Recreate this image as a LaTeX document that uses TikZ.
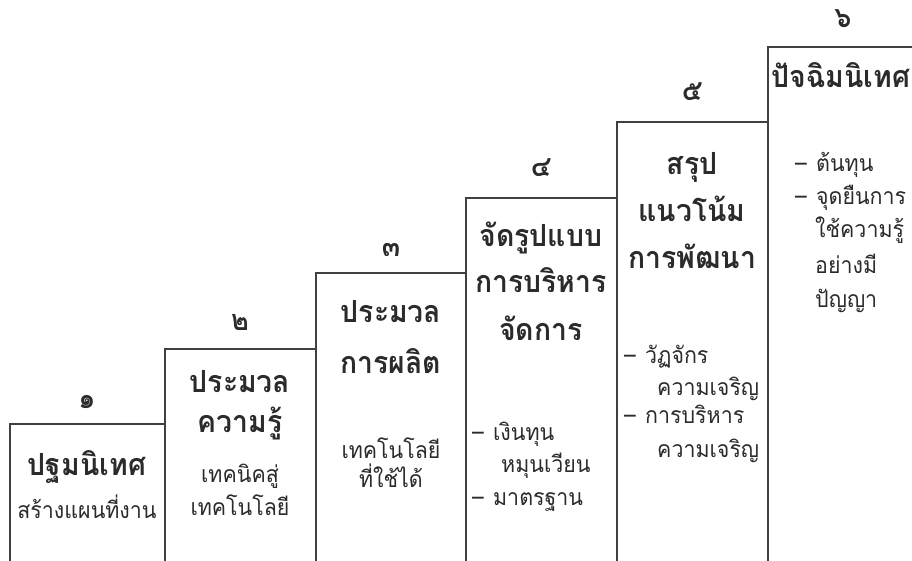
\documentclass[tikz,border=0pt]{standalone}
\usepackage{fontspec}
\newfontfamily\thaifont[Script=Thai, FakeStretch=0.93]{Loma}
\definecolor{txt}{HTML}{2B2B2B}
\definecolor{linec}{HTML}{404040}
\tikzset{
  ttl/.style={font=\thaifont\bfseries\fontsize{30.5}{34}\selectfont, text=txt, anchor=base, inner sep=0pt},
  bd/.style={font=\thaifont\fontsize{23}{26}\selectfont, text=txt, anchor=base, inner sep=0pt},
  bdl/.style={bd, anchor=base west},
  num/.style={font=\thaifont\bfseries\fontsize{29}{32}\selectfont, text=txt, anchor=base, inner sep=0pt},
  stepline/.style={draw=linec, line width=1.5pt}
}
\newcommand{\bul}{–\hspace{0.4em}}
\begin{document}
\begin{tikzpicture}[x=1pt,y=-1pt]
\useasboundingbox (0,0) rectangle (912,561);
% step outlines
\coordinate (s1b) at (10,561);  \coordinate (s1t) at (10,424);
\coordinate (s2b) at (165,561); \coordinate (s2t) at (165,349);
\coordinate (s3b) at (316,561); \coordinate (s3t) at (316,273);
\coordinate (s4b) at (466,561); \coordinate (s4t) at (466,198);
\coordinate (s5b) at (617,561); \coordinate (s5t) at (617,122);
\coordinate (s6b) at (768,561); \coordinate (s6t) at (768,47);
\coordinate (s7t) at (912,47);
\draw[stepline] (s1b) -- (s1t) -- (s2t |- s1t);
\draw[stepline] (s2b) -- (s2t) -- (s3t |- s2t);
\draw[stepline] (s3b) -- (s3t) -- (s4t |- s3t);
\draw[stepline] (s4b) -- (s4t) -- (s5t |- s4t);
\draw[stepline] (s5b) -- (s5t) -- (s6t |- s5t);
\draw[stepline] (s6b) -- (s6t) -- (s7t);
% numbers
\node[num] (n1) at (87,408) {๑};
\node[num] (n2) at (240,330) {๒};
\node[num] (n3) at (391,257) {๓};
\node[num] (n4) at (541,177) {๔};
\node[num] (n5) at (692,101) {๕};
\node[num] (n6) at (843,28) {๖};
% step 1
\node[ttl] (t1a) at (87,475) {ปฐมนิเทศ};
\node[bd] (b1a) at (87,518) {สร้างแผนที่งาน};
% step 2
\node[ttl] (t2a) at (240,392) {ประมวล};
\node[ttl] (t2b) at (240,432) {ความรู้};
\node[bd] (b2a) at (240,482) {เทคนิคสู่};
\node[bd] (b2b) at (240,515) {เทคโนโลยี};
% step 3
\node[ttl] (t3a) at (391,322) {ประมวล};
\node[ttl] (t3b) at (391,373) {การผลิต};
\node[bd] (b3a) at (391,458) {เทคโนโลยี};
\node[bd] (b3b) at (391,487) {ที่ใช้ได้};
% step 4
\node[ttl] (t4a) at (541,247) {จัดรูปแบบ};
\node[ttl] (t4b) at (541,292) {การบริหาร};
\node[ttl] (t4c) at (541,340) {จัดการ};
\node[bdl] (b4a) at (472,440) {\bul เงินทุน};
\node[bdl] (b4b) at (501,472) {หมุนเวียน};
\node[bdl] (b4c) at (472,505) {\bul มาตรฐาน};
% step 5
\node[ttl] (t5a) at (692,175) {สรุป};
\node[ttl] (t5b) at (692,222) {แนวโน้ม};
\node[ttl] (t5c) at (692,268) {การพัฒนา};
\node[bdl] (b5a) at (624,363) {\bul วัฏจักร};
\node[bdl] (b5b) at (657,395) {ความเจริญ};
\node[bdl] (b5c) at (624,423) {\bul การบริหาร};
\node[bdl] (b5d) at (657,457) {ความเจริญ};
% step 6
\node[ttl] (t6a) at (841,88) {ปัจฉิมนิเทศ};
\node[bdl] (b6a) at (795,172) {\bul ต้นทุน};
\node[bdl] (b6b) at (795,205) {\bul จุดยืนการ};
\node[bdl] (b6c) at (815,238) {ใช้ความรู้};
\node[bdl] (b6d) at (815,273) {อย่างมี};
\node[bdl] (b6e) at (815,307) {ปัญญา};
\end{tikzpicture}
\end{document}
